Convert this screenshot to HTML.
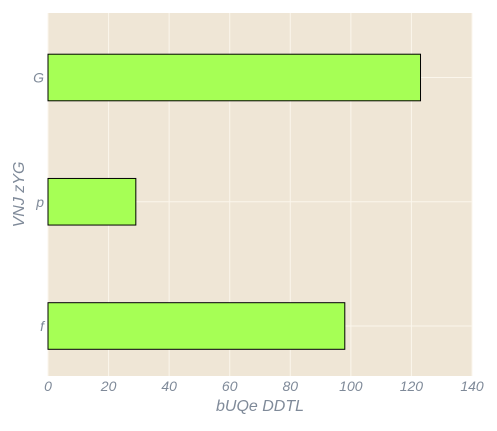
<!DOCTYPE html>
<html><head><meta charset="utf-8"><style>
html,body{margin:0;padding:0;background:#fff;}
svg text{font-family:"Liberation Sans",sans-serif;font-style:italic;fill:#7f8a99;}
</style></head><body>
<svg id="chart" width="497" height="426"></svg>
<script>
const categories = ["G","p","f"];
const values = [123, 29, 98];
const xTicks = [0,20,40,60,80,100,120,140];
const xTitle = "bUQe  DDTL";
const yTitle = "VNJ zYG";

const svg = document.getElementById('chart');
const NS = 'http://www.w3.org/2000/svg';
const L=48, R=472, T=13, B=376;
const xMin=0, xMax=140;
function xs(v){return L+(v-xMin)/(xMax-xMin)*(R-L);}
const step=124.25;
function yc(i){return T+64.5+step*i;}
function mk(tag,attrs,parent){const e=document.createElementNS(NS,tag);for(const k in attrs)e.setAttribute(k,attrs[k]);(parent||svg).appendChild(e);return e;}

const bg=mk('rect',{x:L,y:T,width:R-L,height:B-T,fill:'#efe6d6'});



xTicks.forEach(t=>{
  const g=mk('line',{x1:xs(t),x2:xs(t),y1:T,y2:B,stroke:'#fbf6ec','stroke-width':1});
  
  
  const lb=mk('text',{x:xs(t),y:B+15,'text-anchor':'middle','font-size':14});
  lb.textContent=t;
  
  
});
categories.forEach((c,i)=>{
  const g=mk('line',{x1:L,x2:R,y1:yc(i),y2:yc(i),stroke:'#fbf6ec','stroke-width':1});
  
  
});
categories.forEach((c,i)=>{
  const h=step*0.375;
  const r=mk('rect',{x:L,y:yc(i)-h/2,width:xs(values[i])-L,height:h,fill:'#a6ff55',stroke:'#000','stroke-width':1});
  
  
  const lb=mk('text',{x:L-4,y:yc(i)+5,'text-anchor':'end','font-size':14});
  lb.textContent=c;
  
  
});
const xt=mk('text',{x:(L+R)/2,y:411,'text-anchor':'middle','font-size':16});
xt.textContent=xTitle;


const yt=mk('text',{x:24,y:(T+B)/2,'text-anchor':'middle','font-size':16,transform:'rotate(-90 24 '+((T+B)/2)+')'});
yt.textContent=yTitle;


</script>
</body></html>
